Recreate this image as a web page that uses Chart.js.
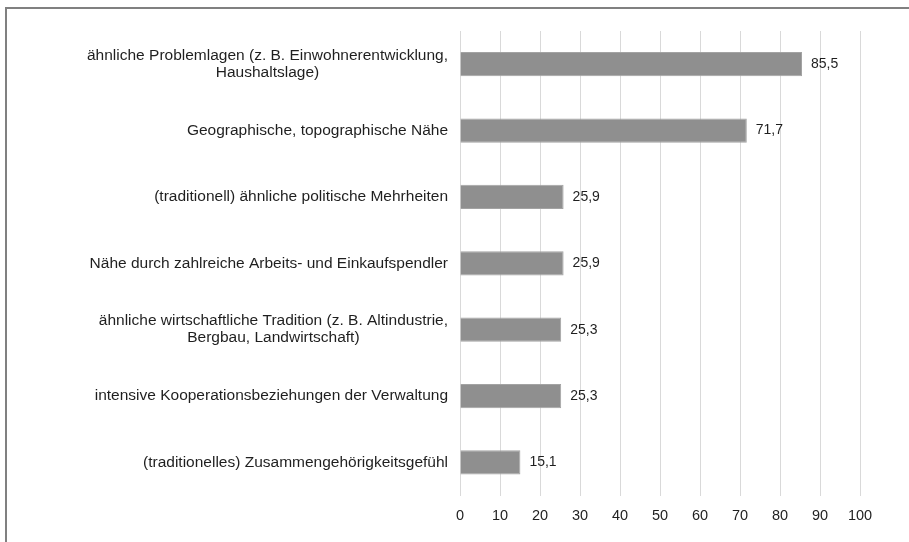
<!DOCTYPE html>
<html>
<head>
<meta charset="utf-8">
<script src="https://cdn.jsdelivr.net/npm/chart.js@4"></script>
<style>
  html, body { margin: 0; padding: 0; background: #ffffff; }
  #wrap { width: 909px; height: 542px; position: relative; }
</style>
</head>
<body>
<div id="wrap"><canvas id="c" width="909" height="542"></canvas></div>
<script>
const categories = [
  ["ähnliche Problemlagen (z. B. Einwohnerentwicklung,", "Haushaltslage)"],
  ["Geographische, topographische Nähe"],
  ["(traditionell) ähnliche politische Mehrheiten"],
  ["Nähe durch zahlreiche Arbeits- und Einkaufspendler"],
  ["ähnliche wirtschaftliche Tradition (z. B. Altindustrie,", "Bergbau, Landwirtschaft)"],
  ["intensive Kooperationsbeziehungen der Verwaltung"],
  ["(traditionelles) Zusammengehörigkeitsgefühl"]
];
const values = [85.5, 71.7, 25.9, 25.9, 25.3, 25.3, 15.1];
const valueLabels = ["85,5", "71,7", "25,9", "25,9", "25,3", "25,3", "15,1"];
const xTicks = [0, 10, 20, 30, 40, 50, 60, 70, 80, 90, 100];

const FONT = '"Liberation Sans", Arial, sans-serif';
const TEXT = '#1f1f1f';

const framePlugin = {
  id: 'frame',
  beforeDraw(chart) {
    const ctx = chart.ctx;
    ctx.save();
    ctx.fillStyle = '#ffffff';
    ctx.fillRect(0, 0, chart.width, chart.height);
    ctx.fillStyle = '#808080';
    ctx.fillRect(5, 7, 2, chart.height - 7);
    ctx.fillRect(5, 7, chart.width - 5, 2);
    ctx.restore();
  }
};

const labelPlugin = {
  id: 'labels',
  afterDatasetsDraw(chart) {
    const ctx = chart.ctx;
    const yScale = chart.scales.y;
    const meta = chart.getDatasetMeta(0);
    ctx.save();
    ctx.font = '15.5px ' + FONT;
    ctx.fillStyle = TEXT;
    ctx.textBaseline = 'middle';
    const rightX = chart.chartArea.left - 12;
    const lh = 17;
    categories.forEach((lines, i) => {
      const cy = yScale.getPixelForTick(i);
      const widths = lines.map(l => ctx.measureText(l).width);
      const widest = Math.max(...widths);
      const centerX = rightX - widest / 2;
      ctx.textAlign = 'center';
      lines.forEach((l, j) => {
        const y = cy + (j - (lines.length - 1) / 2) * lh;
        ctx.fillText(l, centerX, y);
      });
    });
    ctx.font = '14px ' + FONT;
    ctx.textAlign = 'left';
    meta.data.forEach((bar, i) => {
      ctx.fillText(valueLabels[i], bar.x + 9, bar.y);
    });
    ctx.restore();
  }
};

new Chart(document.getElementById('c'), {
  type: 'bar',
  data: {
    labels: categories,
    datasets: [{
      data: values,
      backgroundColor: '#8f8f8f',
      borderColor: '#a3a3a3',
      borderWidth: 1,
      categoryPercentage: 1,
      barPercentage: 0.365
    }]
  },
  options: {
    indexAxis: 'y',
    responsive: false,
    animation: false,
    layout: { padding: { left: 460, right: 49, top: 31, bottom: 5 } },
    plugins: { legend: { display: false }, tooltip: { enabled: false } },
    scales: {
      y: { display: false },
      x: {
        min: 0, max: 100,
        afterBuildTicks(scale) { scale.ticks = xTicks.map(v => ({ value: v })); },
        grid: { color: '#d9d9d9', lineWidth: 1, drawTicks: false },
        border: { display: false },
        ticks: { color: TEXT, font: { family: FONT, size: 14.5 }, padding: 12, maxRotation: 0 }
      }
    }
  },
  plugins: [framePlugin, labelPlugin]
});
</script>
</body>
</html>
